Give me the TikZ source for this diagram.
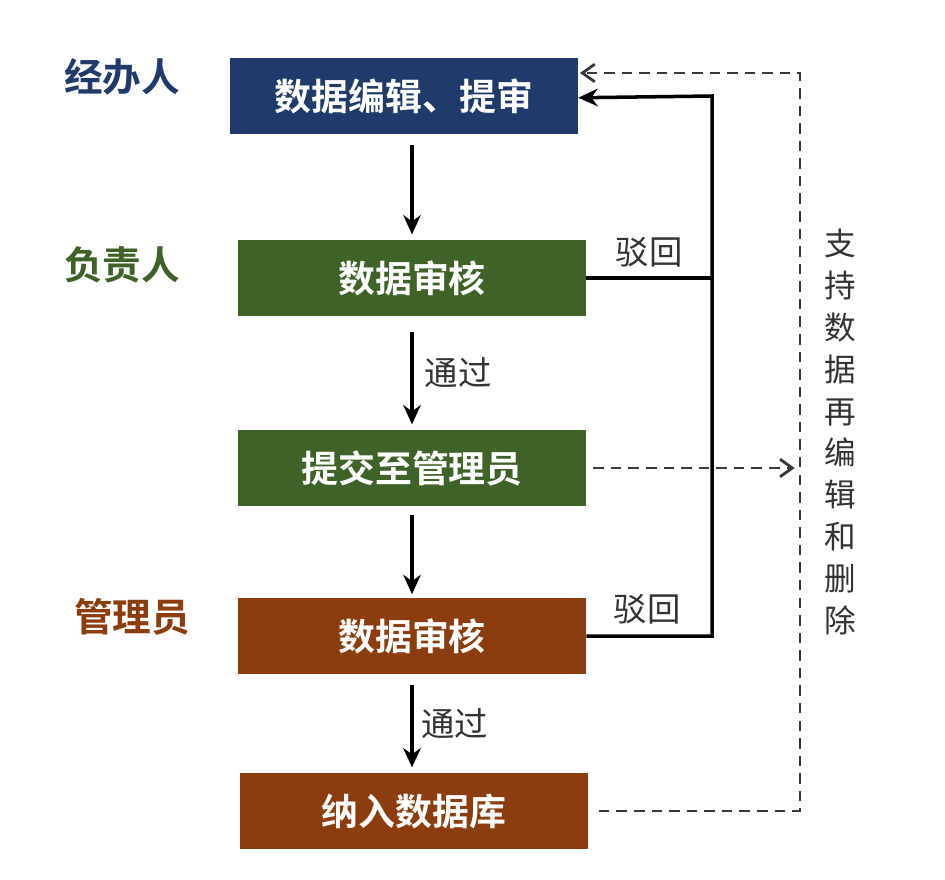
\documentclass[tikz,border=0pt]{standalone}
\usepackage{fontspec}
\newfontfamily\cjk{Noto Sans CJK SC}[BoldFont={Noto Sans CJK SC Bold}]
\usetikzlibrary{arrows.meta}
\definecolor{navy}{HTML}{1F3A6B}
\definecolor{leaf}{HTML}{3E6227}
\definecolor{rust}{HTML}{8B3D0F}
\tikzset{stage/.style={fill=#1,text=white,minimum width=6.96cm,minimum height=1.52cm,inner sep=0pt,font=\cjk\bfseries\fontsize{21}{21}\selectfont},
  role/.style={text=#1,font=\cjk\bfseries\fontsize{22}{22}\selectfont},
  flow/.style={line width=2pt,-{Stealth[length=11pt,width=10pt]}},
  back/.style={line width=1.6pt,dash pattern=on 6pt off 4pt,draw=black!78,-{Straight Barb[length=7pt,width=10pt]}},
  note/.style={font=\cjk\fontsize{19}{19}\selectfont,text=black!80}}
\begin{document}
\begin{tikzpicture}[x=.02cm,y=-.02cm]
  \useasboundingbox[fill=white] (0,0) rectangle (945,879);
  \node[stage=navy] (b1) at (404,96) {数据编辑、提审};
  \node[stage=leaf] (b2) at (412,278) {数据审核};
  \node[stage=leaf] (b3) at (412,468) {提交至管理员};
  \node[stage=rust] (b4) at (412,636) {数据审核};
  \node[stage=rust] (b5) at (414,811) {纳入数据库};
  \node[role=navy] (r1) at (122,77) {经办人}; \node[role=leaf] (r2) at (122,265) {负责人};
  \node[role=rust] (r3) at (132,617) {管理员};
  \coordinate (rt) at (712,0); \coordinate (dt) at (800,0); \coordinate (b1in) at (580,73);
  \draw[flow,shorten <=6pt,shorten >=3pt] (b1.south -| b2.north) -- (b2.north);
  \draw[flow,shorten <=9pt,shorten >=3pt] (b2) -- (b3) node[note,right,midway,xshift=3pt] {通过};
  \draw[flow,shorten <=5pt,shorten >=2pt] (b3) -- (b4);
  \draw[flow,shorten <=6pt,shorten >=3pt] (b4.south) -- (b4.south |- b5.north) node[note,right,midway,xshift=1pt] {通过};
  \draw[flow,-] (b2.east) -- (b2.east -| rt) node[note,above,pos=.5,yshift=2pt] {驳回};
  \draw[flow] (b4.east) -| (b1.east -| rt) -- ([yshift=-1pt]b1.east);
  \node[note] (nb) at (647,609) {驳回};
  \draw[back,shorten <=6pt] (b5.east) -| (dt |- b1in) -- (b1in);
  \draw[back,shorten <=4pt,shorten >=3pt] (b3.east) -- (b3.east -| dt);
  \node[note,align=center,font=\cjk\fontsize{18}{23.8}\selectfont] (txt) at (840,432) {支\\持\\数\\据\\再\\编\\辑\\和\\删\\除};
\end{tikzpicture}
\end{document}
